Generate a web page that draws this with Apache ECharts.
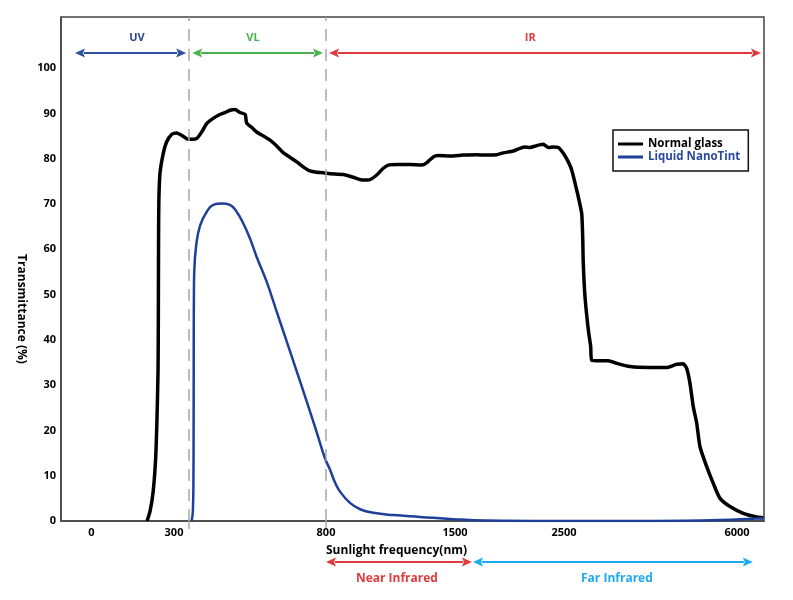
<!DOCTYPE html>
<html><head><meta charset="utf-8">
<script src="https://cdn.jsdelivr.net/npm/echarts@6/dist/echarts.min.js"></script>
<style>html,body{margin:0;padding:0;background:#fff}#c{width:793px;height:600px}</style>
</head><body><div id="c"></div>
<script>
// ---------- data ----------
const tickNm = [0, 300, 800, 1500, 2500, 6000];
const tickLabels = ['0', '300', '800', '1500', '2500', '6000'];

// [wavelength nm, transmittance %]
const normalGlass = [
  [202,0],[213,2.2],[224,6.4],[233,13.5],[238,22.3],[242,33.3],[243,44.4],[243.5,55.4],[244,64.2],[245,70.9],
  [249,76.8],[261,81.2],[273,83.7],[292,85.4],[309,85.7],[325,85.2],[342,84.4],[358,84.3],[375,84.5],[391,85.9],
  [408,87.8],[424,88.7],[446,89.6],[468,90.2],[484,90.7],[501,90.9],[517,90.2],[534,89.8],[539,87.9],[556,86.9],
  [572,85.9],[594,85.0],[616,84.1],[638,82.8],[660,81.3],[682,80.3],[704,79.3],[725,78.2],[747,77.3],[769,77.0],
  [791,76.9],[822,76.7],[894,76.5],[948,75.9],[994,75.3],[1039,75.4],[1075,76.4],[1111,77.9],[1138,78.6],[1184,78.7],
  [1256,78.7],[1319,78.6],[1346,79.1],[1382,80.4],[1409,80.7],[1473,80.6],[1576,80.8],[1699,80.9],[1821,80.8],[1883,80.9],
  [1943,81.3],[2035,81.7],[2096,82.3],[2142,82.6],[2188,82.5],[2250,82.9],[2310,83.2],[2356,82.5],[2402,82.6],[2448,82.5],
  [2494,81.2],[2587,79.3],[2656,77.5],[2757,73.1],[2789,71.6],[2858,67.9],[2878,62.8],[2890,56.9],[2925,49.5],[2992,42.2],
  [3040,38.5],[3060,35.5],[3228,35.4],[3396,35.4],[3566,34.8],[3835,34.1],[4240,33.9],[4578,33.9],[4780,34.6],[4913,34.7],
  [4982,33.7],[5049,30.4],[5116,25.2],[5185,21.6],[5251,16.4],[5387,12.0],[5520,8.3],[5656,5.0],[5858,3.2],[6127,1.7],
  [6398,0.9],[6532,0.7]
];
const nanoTint = [
  [358,0],[362,2.1],[364,9.5],[364.5,20.5],[364.8,31.6],[365,42.6],[365.5,49.9],[366.5,55.0],[373,60.9],[386,65.3],
  [408,68.3],[429,69.8],[457,70.1],[484,69.8],[506,68.3],[528,65.7],[550,62.4],[572,58.3],[605,52.8],[638,46.2],
  [671,39.6],[704,33.0],[737,26.3],[769,19.7],[797,13.8],[822,11.3],[849,8.5],[876,6.5],[930,4.0],[985,2.6],
  [1057,1.8],[1165,1.3],[1310,0.9],[1491,0.4],[1790,0.1],[2402,0],[4307,0],[5656,0.2],[6540,0.6]
];

const regionNames = ['UV', 'VL', 'IR'];
const regionEdges = [-60, 350, 800, 6546];
const regionLabelNm = [165, 560, 2190];
const bandNames = ['Near Infrared', 'Far Infrared'];
const bandRanges = [[800, 1655], [1665, 6320]];

// ---------- layout / style ----------
const FONT = '"Open Sans", "Noto Sans", sans-serif';
const tickPos = [30.5, 113, 265, 394, 503, 676]; // axis units of the custom nm scale
const AX_MAX = 703;
function nmToPos(nm) {
  const n = tickNm.length;
  let i;
  if (nm <= tickNm[0]) i = 0;
  else if (nm >= tickNm[n - 1]) i = n - 2;
  else { i = 0; while (nm > tickNm[i + 1]) i++; }
  const t = (nm - tickNm[i]) / (tickNm[i + 1] - tickNm[i]);
  return tickPos[i] + t * (tickPos[i + 1] - tickPos[i]);
}
const toPos = arr => arr.map(p => [nmToPos(p[0]), p[1]]);
const regionColors = ['#2f4f9f', '#4cb050', '#e03a3e'];
const regionTextColors = ['#2a4494', '#4cb050', '#e03a3e'];
const bandColors = ['#e03a3e', '#1eaaf1'];

const chart = echarts.init(document.getElementById('c'), null, {renderer: 'canvas'});
const boundaryPos = [nmToPos(regionEdges[1]), nmToPos(regionEdges[2])];

chart.setOption({
  animation: false,
  backgroundColor: '#fff',
  grid: {left: 61, right: 29, top: 17, bottom: 79, show: true, borderColor: '#444', borderWidth: 1.5, backgroundColor: 'transparent'},
  xAxis: {
    type: 'value', min: 0, max: AX_MAX,
    splitLine: {show: false},
    axisLine: {show: true, lineStyle: {color: '#444', width: 1.5}},
    axisTick: {show: true, customValues: boundaryPos, length: 8, lineStyle: {color: '#aaa', width: 1.5}},
    axisLabel: {
      customValues: tickPos, margin: 6,
      formatter: v => { const i = tickPos.findIndex(p => Math.abs(p - v) < 0.01); return i >= 0 ? tickLabels[i] : ''; },
      color: '#000', fontWeight: 'bold', fontSize: 11, fontFamily: FONT
    }
  },
  yAxis: {
    type: 'value', min: 0, max: 111.3, interval: 10,
    splitLine: {show: false},
    axisLine: {show: true, lineStyle: {color: '#444', width: 1.5}},
    axisTick: {show: false},
    axisLabel: {formatter: v => v > 100 ? '' : String(v), color: '#000', fontWeight: 'bold', fontSize: 11, fontFamily: FONT, margin: 5}
  },
  legend: {
    orient: 'vertical', left: 613, top: 130, padding: [8, 8, 8, 5], itemGap: 1,
    itemWidth: 25, itemHeight: 3, icon: 'rect',
    borderColor: '#111', borderWidth: 1.5, borderRadius: 0,
    textStyle: {fontFamily: FONT, fontWeight: 'bold', fontSize: 11.5},
    data: [
      {name: 'Normal glass', textStyle: {color: '#000'}},
      {name: 'Liquid NanoTint', textStyle: {color: '#2a49a0'}}
    ]
  },
  series: [
    {
      name: 'Normal glass', type: 'line', data: toPos(normalGlass), showSymbol: false, smooth: 0.2,
      lineStyle: {color: '#000', width: 3.5}, itemStyle: {color: '#000'}, z: 3,
      markLine: {
        silent: true, symbol: 'none', label: {show: false},
        lineStyle: {color: '#a8a8a8', type: [12, 8], width: 1.5},
        data: boundaryPos.map(p => ({xAxis: p}))
      }
    },
    {
      name: 'Liquid NanoTint', type: 'line', data: toPos(nanoTint), showSymbol: false, smooth: 0.45,
      lineStyle: {color: '#1f3f99', width: 2.5}, itemStyle: {color: '#1f3f99'}, z: 4
    }
  ]
});

// ---------- annotations (x positions through the axis scale) ----------
function px(nm) { return chart.convertToPixel({xAxisIndex: 0}, nmToPos(nm)); }
function arrow(x1, x2, y, color) {
  const h = 10, w = 4.5;
  return [
    {type: 'line', shape: {x1: x1 + h - 1, y1: y, x2: x2 - h + 1, y2: y}, style: {stroke: color, lineWidth: 2.2}, silent: true},
    {type: 'polygon', shape: {points: [[x1, y], [x1 + h, y - w], [x1 + h - 2, y], [x1 + h, y + w]]}, style: {fill: color}, silent: true},
    {type: 'polygon', shape: {points: [[x2, y], [x2 - h, y - w], [x2 - h + 2, y], [x2 - h, y + w]]}, style: {fill: color}, silent: true}
  ];
}
const g = [];
const TOP_Y = 53, TOP_LABEL_Y = 38;
for (let i = 0; i < regionNames.length; i++) {
  const a = px(regionEdges[i]) + (i === 0 ? 0 : 3);
  const b = px(regionEdges[i + 1]) - 3;
  g.push(...arrow(a, b, TOP_Y, regionColors[i]));
  g.push({type: 'text', x: px(regionLabelNm[i]), y: TOP_LABEL_Y, silent: true,
    style: {text: regionNames[i], fill: regionTextColors[i], font: 'bold 11px ' + FONT, align: 'center', verticalAlign: 'middle'}});
}
const BOT_Y = 562, BOT_LABEL_Y = 579;
for (let i = 0; i < bandNames.length; i++) {
  const a = px(bandRanges[i][0]), b = px(bandRanges[i][1]);
  g.push(...arrow(a, b, BOT_Y, bandColors[i]));
  g.push({type: 'text', x: (a + b) / 2 + (i === 0 ? -2 : 4), y: BOT_LABEL_Y, silent: true,
    style: {text: bandNames[i], fill: bandColors[i], font: 'bold 12px ' + FONT, align: 'center', verticalAlign: 'middle'}});
}
g.push({type: 'text', x: px(800), y: 551, silent: true,
  style: {text: 'Sunlight frequency(nm)', fill: '#000', font: 'bold 12px ' + FONT, align: 'left', verticalAlign: 'middle'}});
g.push({type: 'text', x: 21, y: 309, rotation: -Math.PI / 2, silent: true,
  style: {text: 'Transmittance (%)', fill: '#000', font: 'bold 12px ' + FONT, align: 'center', verticalAlign: 'middle'}});
chart.setOption({graphic: g});
</script>
</body></html>
